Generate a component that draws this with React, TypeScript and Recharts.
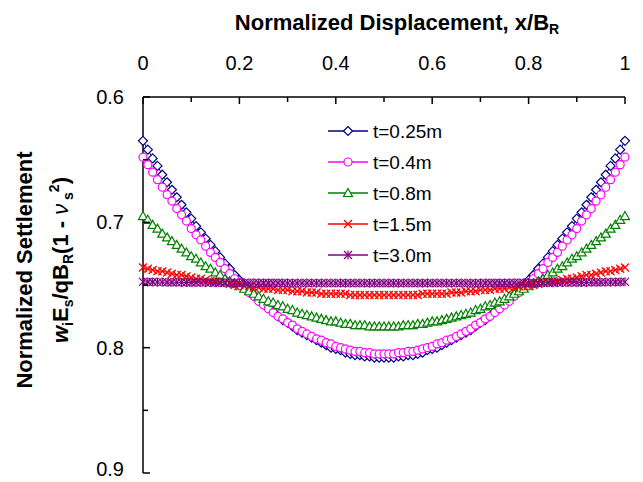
import React from 'react';
import { LineChart, Line, XAxis, YAxis, Legend } from 'recharts';

// x/B_R positions
const xValues = [
  0, 0.01, 0.02, 0.03, 0.04, 0.05, 0.06, 0.07, 0.08, 0.09,
  0.1, 0.11, 0.12, 0.13, 0.14, 0.15, 0.16, 0.17, 0.18, 0.19,
  0.2, 0.21, 0.22, 0.23, 0.24, 0.25, 0.26, 0.27, 0.28, 0.29,
  0.3, 0.31, 0.32, 0.33, 0.34, 0.35, 0.36, 0.37, 0.38, 0.39,
  0.4, 0.41, 0.42, 0.43, 0.44, 0.45, 0.46, 0.47, 0.48, 0.49,
  0.5, 0.51, 0.52, 0.53, 0.54, 0.55, 0.56, 0.57, 0.58, 0.59,
  0.6, 0.61, 0.62, 0.63, 0.64, 0.65, 0.66, 0.67, 0.68, 0.69,
  0.7, 0.71, 0.72, 0.73, 0.74, 0.75, 0.76, 0.77, 0.78, 0.79,
  0.8, 0.81, 0.82, 0.83, 0.84, 0.85, 0.86, 0.87, 0.88, 0.89,
  0.9, 0.91, 0.92, 0.93, 0.94, 0.95, 0.96, 0.97, 0.98, 0.99,
  1,
];

const t025 = [
  0.635, 0.642, 0.649, 0.655, 0.662, 0.668, 0.674, 0.680, 0.686, 0.692,
  0.697, 0.703, 0.708, 0.713, 0.718, 0.723, 0.728, 0.733, 0.737, 0.742,
  0.746, 0.750, 0.754, 0.758, 0.761, 0.765, 0.768, 0.771, 0.775, 0.778,
  0.780, 0.783, 0.786, 0.788, 0.790, 0.792, 0.794, 0.796, 0.798, 0.800,
  0.801, 0.802, 0.804, 0.805, 0.806, 0.806, 0.807, 0.807, 0.808, 0.808,
  0.808,
  0.808, 0.808, 0.807, 0.807, 0.806, 0.806, 0.805, 0.804, 0.802, 0.801,
  0.800, 0.798, 0.796, 0.794, 0.792, 0.790, 0.788, 0.786, 0.783, 0.780,
  0.778, 0.775, 0.771, 0.768, 0.765, 0.761, 0.758, 0.754, 0.750, 0.746,
  0.742, 0.737, 0.733, 0.728, 0.723, 0.718, 0.713, 0.708, 0.703, 0.697,
  0.692, 0.686, 0.680, 0.674, 0.668, 0.662, 0.655, 0.649, 0.642, 0.635,
];

const t04 = [
  0.648, 0.654, 0.660, 0.666, 0.672, 0.678, 0.683, 0.689, 0.694, 0.699,
  0.705, 0.710, 0.714, 0.719, 0.724, 0.728, 0.732, 0.737, 0.741, 0.745,
  0.748, 0.752, 0.756, 0.759, 0.763, 0.766, 0.769, 0.772, 0.775, 0.777,
  0.780, 0.782, 0.785, 0.787, 0.789, 0.791, 0.793, 0.794, 0.796, 0.797,
  0.799, 0.800, 0.801, 0.802, 0.803, 0.803, 0.804, 0.804, 0.805, 0.805,
  0.805,
  0.805, 0.805, 0.804, 0.804, 0.803, 0.803, 0.802, 0.801, 0.800, 0.799,
  0.797, 0.796, 0.794, 0.793, 0.791, 0.789, 0.787, 0.785, 0.782, 0.780,
  0.777, 0.775, 0.772, 0.769, 0.766, 0.763, 0.759, 0.756, 0.752, 0.748,
  0.745, 0.741, 0.737, 0.732, 0.728, 0.724, 0.719, 0.714, 0.710, 0.705,
  0.699, 0.694, 0.689, 0.683, 0.678, 0.672, 0.666, 0.660, 0.654, 0.648,
];

const t08 = [
  0.695, 0.698, 0.702, 0.705, 0.709, 0.712, 0.715, 0.718, 0.721, 0.724,
  0.727, 0.729, 0.732, 0.735, 0.737, 0.740, 0.742, 0.745, 0.747, 0.749,
  0.751, 0.753, 0.755, 0.757, 0.759, 0.761, 0.763, 0.764, 0.766, 0.767,
  0.769, 0.770, 0.772, 0.773, 0.774, 0.775, 0.776, 0.777, 0.778, 0.779,
  0.779, 0.780, 0.781, 0.781, 0.782, 0.782, 0.782, 0.783, 0.783, 0.783,
  0.783,
  0.783, 0.783, 0.783, 0.782, 0.782, 0.782, 0.781, 0.781, 0.780, 0.779,
  0.779, 0.778, 0.777, 0.776, 0.775, 0.774, 0.773, 0.772, 0.770, 0.769,
  0.767, 0.766, 0.764, 0.763, 0.761, 0.759, 0.757, 0.755, 0.753, 0.751,
  0.749, 0.747, 0.745, 0.742, 0.740, 0.737, 0.735, 0.732, 0.729, 0.727,
  0.724, 0.721, 0.718, 0.715, 0.712, 0.709, 0.705, 0.702, 0.698, 0.695,
];

const t15 = [
  0.736, 0.737, 0.738, 0.739, 0.739, 0.740, 0.741, 0.742, 0.742, 0.743,
  0.744, 0.745, 0.745, 0.746, 0.747, 0.747, 0.748, 0.748, 0.749, 0.750,
  0.750, 0.751, 0.751, 0.752, 0.752, 0.753, 0.753, 0.753, 0.754, 0.754,
  0.754, 0.755, 0.755, 0.755, 0.756, 0.756, 0.756, 0.757, 0.757, 0.757,
  0.757, 0.757, 0.757, 0.758, 0.758, 0.758, 0.758, 0.758, 0.758, 0.758,
  0.758,
  0.758, 0.758, 0.758, 0.758, 0.758, 0.758, 0.758, 0.757, 0.757, 0.757,
  0.757, 0.757, 0.757, 0.756, 0.756, 0.756, 0.755, 0.755, 0.755, 0.754,
  0.754, 0.754, 0.753, 0.753, 0.753, 0.752, 0.752, 0.751, 0.751, 0.750,
  0.750, 0.749, 0.748, 0.748, 0.747, 0.747, 0.746, 0.745, 0.745, 0.744,
  0.743, 0.742, 0.742, 0.741, 0.740, 0.739, 0.739, 0.738, 0.737, 0.736,
];

const t30 = [
  0.7475, 0.7476, 0.7476, 0.7477, 0.7477, 0.7478, 0.7478, 0.7479, 0.7479, 0.7480,
  0.7480, 0.7480, 0.7481, 0.7481, 0.7481, 0.7482, 0.7482, 0.7482, 0.7482, 0.7483,
  0.7483, 0.7483, 0.7483, 0.7483, 0.7484, 0.7484, 0.7484, 0.7484, 0.7484, 0.7484,
  0.7485, 0.7485, 0.7485, 0.7485, 0.7485, 0.7485, 0.7485, 0.7485, 0.7485, 0.7485,
  0.7485, 0.7485, 0.7485, 0.7485, 0.7485, 0.7485, 0.7485, 0.7485, 0.7485, 0.7485,
  0.7485,
  0.7485, 0.7485, 0.7485, 0.7485, 0.7485, 0.7485, 0.7485, 0.7485, 0.7485, 0.7485,
  0.7485, 0.7485, 0.7485, 0.7485, 0.7485, 0.7485, 0.7485, 0.7485, 0.7485, 0.7485,
  0.7484, 0.7484, 0.7484, 0.7484, 0.7484, 0.7484, 0.7483, 0.7483, 0.7483, 0.7483,
  0.7483, 0.7482, 0.7482, 0.7482, 0.7482, 0.7481, 0.7481, 0.7481, 0.7480, 0.7480,
  0.7480, 0.7479, 0.7479, 0.7478, 0.7478, 0.7477, 0.7477, 0.7476, 0.7476, 0.7475,
];

const xTicks = [0, 0.1, 0.2, 0.3, 0.4, 0.5, 0.6, 0.7, 0.8, 0.9, 1];
const xLabels = ['0', '', '0.2', '', '0.4', '', '0.6', '', '0.8', '', '1'];
const yTicks = [0.6, 0.65, 0.7, 0.75, 0.8, 0.85, 0.9];
const yLabels = ['0.6', '', '0.7', '', '0.8', '', '0.9'];

const SERIES = [
  { key: 'a', name: 't=0.25m', color: '#000080', marker: 'diamond', values: t025 },
  { key: 'b', name: 't=0.4m', color: '#FF00FF', marker: 'circle', values: t04 },
  { key: 'c', name: 't=0.8m', color: '#008000', marker: 'triangle', values: t08 },
  { key: 'd', name: 't=1.5m', color: '#FF0000', marker: 'cross', values: t15 },
  { key: 'e', name: 't=3.0m', color: '#800080', marker: 'star', values: t30 },
];

const data = xValues.map((x, i) => {
  const row: any = { x };
  SERIES.forEach((s) => { row[s.key] = s.values[i]; });
  return row;
});

const FONT = '"Liberation Sans", Arial, sans-serif';
const PLOT_LEFT = 143;
const PLOT_TOP = 97;

const renderMarker = (type: string, cx: number, cy: number, color: string, key?: string) => {
  const sw = 1.2;
  if (cx == null || cy == null) return <g key={key} />;
  switch (type) {
    case 'diamond':
      return (
        <polygon key={key} points={`${cx},${cy - 4.5} ${cx + 4.5},${cy} ${cx},${cy + 4.5} ${cx - 4.5},${cy}`}
          fill="#fff" stroke={color} strokeWidth={sw} />
      );
    case 'circle':
      return <circle key={key} cx={cx} cy={cy} r={4} fill="#fff" stroke={color} strokeWidth={sw} />;
    case 'triangle':
      return (
        <polygon key={key} points={`${cx},${cy - 4.5} ${cx + 4.5},${cy + 3.5} ${cx - 4.5},${cy + 3.5}`}
          fill="#fff" stroke={color} strokeWidth={sw} />
      );
    case 'cross':
      return (
        <g key={key} stroke={color} strokeWidth={sw}>
          <line x1={cx - 4} y1={cy - 4} x2={cx + 4} y2={cy + 4} />
          <line x1={cx - 4} y1={cy + 4} x2={cx + 4} y2={cy - 4} />
        </g>
      );
    default:
      return (
        <g key={key} stroke={color} strokeWidth={sw}>
          <line x1={cx - 4} y1={cy - 4} x2={cx + 4} y2={cy + 4} />
          <line x1={cx - 4} y1={cy + 4} x2={cx + 4} y2={cy - 4} />
          <line x1={cx} y1={cy - 4.5} x2={cx} y2={cy + 4.5} />
        </g>
      );
  }
};

// ticks point into the plot, labels only on the major ones
const XTick = ({ x, index }: any) => {
  const label = xLabels[index];
  return (
    <g>
      <line x1={x} y1={PLOT_TOP} x2={x} y2={PLOT_TOP + (label ? 7 : 5)} stroke="#000" strokeWidth={1.5} />
      {label && (
        <text x={x} y={70} textAnchor="middle" fontSize={20} fontFamily={FONT} fill="#000">{label}</text>
      )}
    </g>
  );
};

const YTick = ({ y, index }: any) => {
  const label = yLabels[index];
  // last label sits on the bottom edge, nudge it up a little so it stays inside
  const base = index === yTicks.length - 1 ? y + 3 : y + 7;
  return (
    <g>
      <line x1={PLOT_LEFT} y1={y} x2={PLOT_LEFT + (label ? 7 : 5)} y2={y} stroke="#000" strokeWidth={1.5} />
      {label && (
        <text x={124} y={base} textAnchor="end" fontSize={20} fontFamily={FONT} fill="#000">{label}</text>
      )}
    </g>
  );
};

const renderLegend = () => (
  <svg width={150} height={150}>
    {SERIES.map((s, i) => {
      const cy = 16 + i * 31;
      return (
        <g key={s.key}>
          <line x1={6} x2={46} y1={cy} y2={cy} stroke={s.color} strokeWidth={1.5} />
          {renderMarker(s.marker, 26, cy, s.color)}
          <text x={51} y={cy + 7} fontSize={19} fontFamily={FONT} fill="#000">{s.name}</text>
        </g>
      );
    })}
  </svg>
);

export default function App() {
  return (
    <div style={{ position: 'absolute', left: 0, top: 0, width: 643, height: 482, background: '#fff', fontFamily: FONT }}>
      <LineChart width={643} height={482} data={data} margin={{ top: 57, right: 18, bottom: 9, left: 83 }}>
        <XAxis
          dataKey="x"
          type="number"
          orientation="top"
          domain={[0, 1]}
          ticks={xTicks}
          interval={0}
          height={40}
          axisLine={{ stroke: '#000', strokeWidth: 1.5 }}
          tickLine={false}
          tick={<XTick />}
        />
        <YAxis
          type="number"
          reversed
          domain={[0.6, 0.9]}
          ticks={yTicks}
          interval={0}
          width={60}
          allowDataOverflow
          axisLine={{ stroke: '#000', strokeWidth: 1.5 }}
          tickLine={false}
          tick={<YTick />}
        />
        <Legend
          layout="horizontal"
          verticalAlign="middle"
          align="center"
          content={renderLegend}
          wrapperStyle={{ position: 'absolute', left: 322, top: 115, width: 150, height: 150 }}
        />
        {SERIES.map((s) => (
          <Line
            key={s.key}
            dataKey={s.key}
            name={s.name}
            type="linear"
            stroke={s.color}
            strokeWidth={1}
            isAnimationActive={false}
            activeDot={false}
            dot={(p: any) => renderMarker(s.marker, p.cx, p.cy, s.color, `${s.key}-${p.index}`)}
          />
        ))}
      </LineChart>
      <svg width={643} height={482} style={{ position: 'absolute', left: 0, top: 0, pointerEvents: 'none' }}>
        <text x={397} y={30} textAnchor="middle" fontSize={22} fontWeight="bold" fontFamily={FONT} fill="#000">
          Normalized Displacement, x/B<tspan fontSize={14} dy={4}>R</tspan>
        </text>
        <text transform="translate(32,270) rotate(-90)" textAnchor="middle" fontSize={22} fontWeight="bold"
          fontFamily={FONT} fill="#000">
          Normalized Settlement
        </text>
        <text transform="translate(68,260) rotate(-90)" textAnchor="middle" fontSize={22} fontWeight="bold"
          fontFamily={FONT} fill="#000">
          <tspan fontStyle="italic">w</tspan>
          <tspan fontSize={14} dy={5}>i</tspan>
          <tspan dy={-5}>E</tspan>
          <tspan fontSize={14} dy={5}>s</tspan>
          <tspan dy={-5}>/qB</tspan>
          <tspan fontSize={14} dy={5}>R</tspan>
          <tspan dy={-5}>(1 - </tspan>
          <tspan fontStyle="italic" fontWeight="normal">ν</tspan>
          <tspan fontSize={14} dy={5}> s</tspan>
          <tspan fontSize={14} dy={-14}>2</tspan>
          <tspan dy={9}>)</tspan>
        </text>
      </svg>
    </div>
  );
}
